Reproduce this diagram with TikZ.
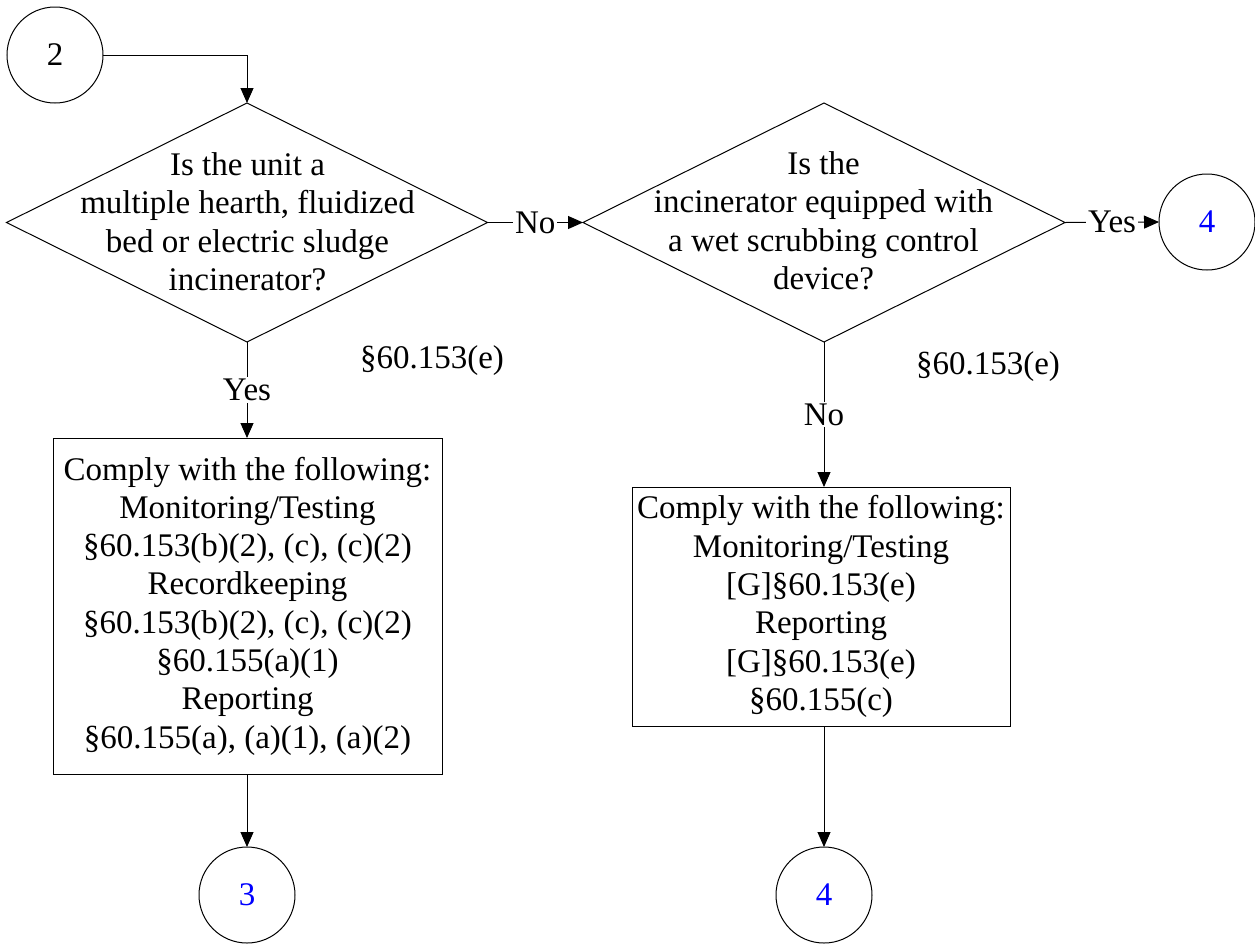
\documentclass[tikz,border=0pt]{standalone}
\usepackage{fontspec}
\setmainfont{Liberation Serif}
\usetikzlibrary{shapes.geometric,arrows.meta}
\definecolor{numblue}{RGB}{0,0,255}
\begin{document}
\begin{tikzpicture}[x=1pt,y=-1pt,
  txt/.style={font=\fontsize{33}{38.5}\selectfont, align=center, inner sep=0pt},
  conn/.style={circle, draw, line width=1pt, minimum size=96pt, inner sep=0pt, outer sep=0pt, font=\fontsize{33}{38.5}\selectfont},
  decision/.style={diamond, draw, line width=1pt, inner sep=0pt, outer sep=0pt},
  procbox/.style={rectangle, draw, line width=1pt, inner sep=0pt, outer sep=0pt, font=\fontsize{33}{38.3}\selectfont, align=center},
  flow/.style={line width=1pt, -{Triangle[length=15pt,width=13pt]}},
  lbl/.style={fill=white, inner sep=2pt, font=\fontsize{33}{38.5}\selectfont}
]
\useasboundingbox (0,0) rectangle (1255,943);
\fill[white] (0,0) rectangle (1255,943);

% connectors (circles)
\node[conn] (c2) at (55,55) {2};
\node[conn, text=numblue] (c4r) at (1207,222) {4};
\node[conn, text=numblue] (c3) at (247,895) {3};
\node[conn, text=numblue] (c4b) at (824,895) {4};

% decisions
\node[decision, minimum width=481pt, minimum height=239pt] (d1) at (247,222.5) {};
\node[txt] (d1t) at (247.5,222) {Is the unit a\\multiple hearth, fluidized\\bed or electric sludge\\incinerator?};
\node[decision, minimum width=482pt, minimum height=239pt] (d2) at (824,222.5) {};
\node[txt] (d2t) at (823.5,221) {Is the\\incinerator equipped with\\a wet scrubbing control\\device?};

% process boxes
\node[procbox, minimum width=389pt, minimum height=336pt] (b1) at (247.5,606) {Comply with the following:\\Monitoring/Testing\\§60.153(b)(2), (c), (c)(2)\\Recordkeeping\\§60.153(b)(2), (c), (c)(2)\\§60.155(a)(1)\\Reporting\\§60.155(a), (a)(1), (a)(2)};
\node[procbox, minimum width=378pt, minimum height=239pt] (b2) at (821,606.5) {Comply with the following:\\Monitoring/Testing\\{[G]}§60.153(e)\\Reporting\\{[G]}§60.153(e)\\§60.155(c)};

% citation labels
\node[txt] (r1) at (432,361) {§60.153(e)};
\node[txt] (r2) at (988,367) {§60.153(e)};

% flows
\draw[flow] (c2.east) -- (d1.north |- c2.east) -- (d1.north);
\draw[flow] (d1.east) -- node[lbl] (n1) {No} (d2.west);
\draw[flow] (d2.east) -- node[lbl] (y1) {Yes} (c4r.west);
\draw[flow] (d1.south) -- node[lbl] (y2) {Yes} (d1.south |- b1.north);
\draw[flow] (d2.south) -- node[lbl] (n2) {No} (d2.south |- b2.north);
\draw[flow] (d1.south |- b1.south) -- (c3.north);
\draw[flow] (d2.south |- b2.south) -- (c4b.north);
\end{tikzpicture}
\end{document}
